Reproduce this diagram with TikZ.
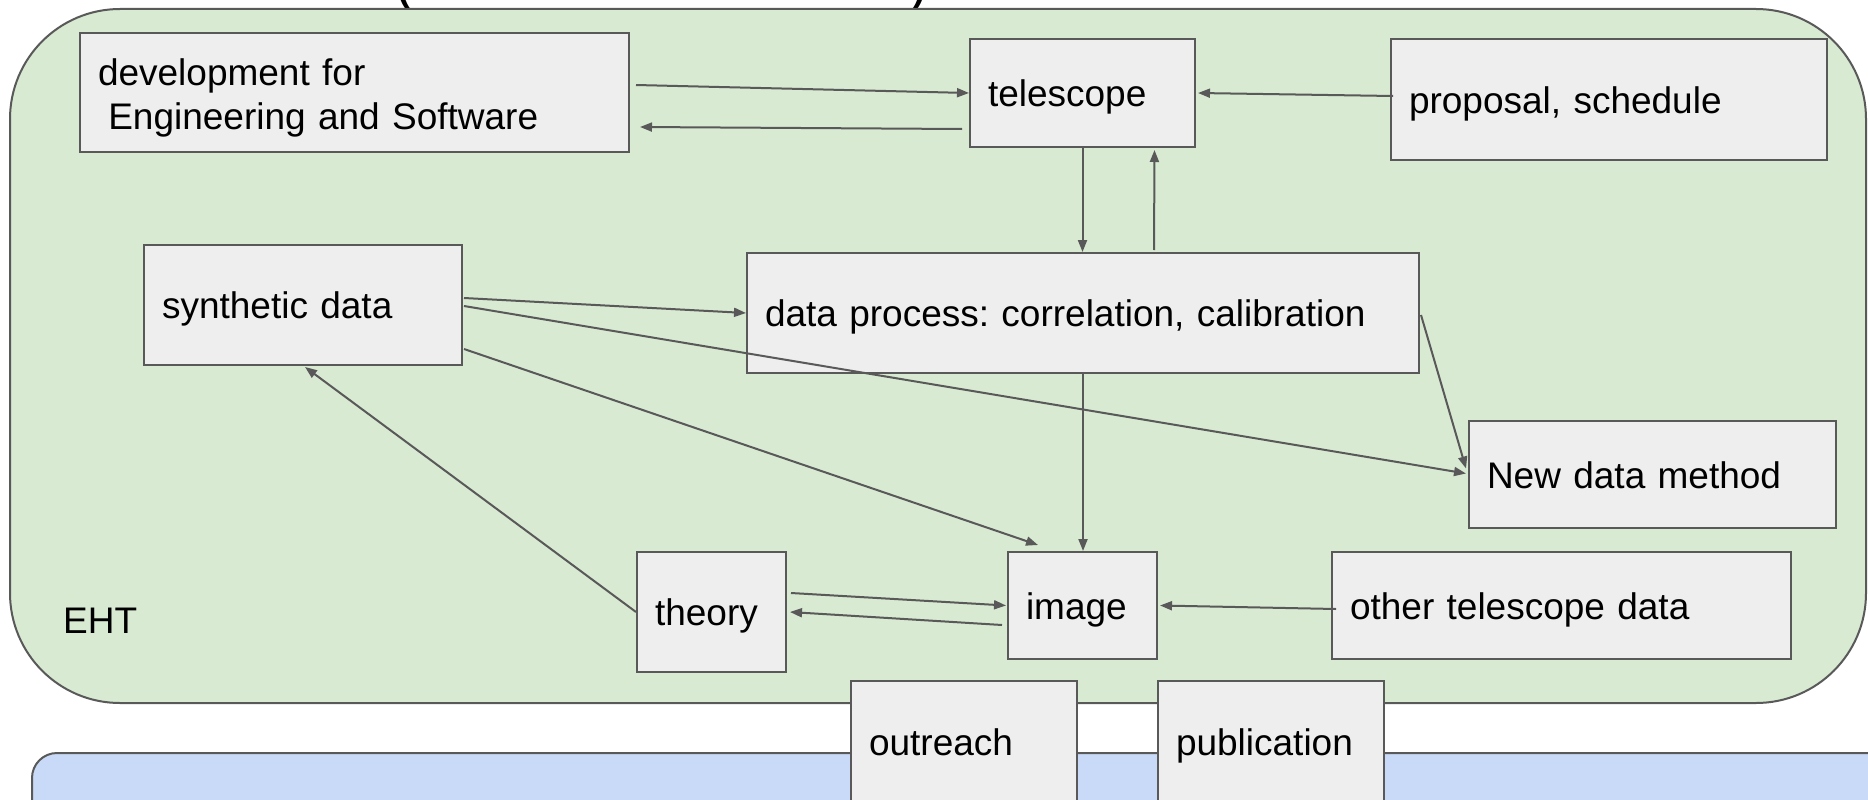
\documentclass[tikz,border=0pt]{standalone}
\usepackage{fontspec}
\setmainfont{Liberation Sans}
\usetikzlibrary{arrows.meta}
\definecolor{ehtgreen}{HTML}{D9EAD3}
\definecolor{bluebg}{HTML}{C9DAF8}
\definecolor{boxfill}{HTML}{EEEEEE}
\definecolor{edgegray}{HTML}{595959}
\frenchspacing
\begin{document}
\begin{tikzpicture}[x=1pt,y=-1pt,
  box/.style={draw=edgegray, fill=boxfill, line width=2pt, rectangle,
    inner xsep=18pt, inner ysep=0pt, align=left,
    text height=31pt, text depth=4pt,
    font=\fontsize{37}{44}\selectfont},
  conn/.style={draw=edgegray, line width=2pt, -{Triangle[length=12pt,width=9pt]}},
  region/.style={draw=edgegray, line width=2pt},
  lbl/.style={inner sep=0pt, font=\fontsize{37}{44}\selectfont},
  paren/.style={inner sep=0pt, anchor=base, font=\fontsize{56}{60}\selectfont}
]
\useasboundingbox (0,0) rectangle (1868,800);
\begin{scope}
\clip (0,0) rectangle (1868,800);
% title fragments
\node[paren] (lpar) at (405,2) {(};
\node[paren] (rpar) at (919,2) {)};
% regions
\path[region, fill=ehtgreen, rounded corners=110pt] (10,9) rectangle (1866,703);
\path[region, fill=bluebg, rounded corners=25pt] (32,753) rectangle (1920,900);
\node[lbl, anchor=west] (eht) at (63,621) {EHT};
% boxes
\node[box, minimum width=549pt, minimum height=119pt, text width=513pt, text height=34pt, text depth=48pt] (dev) at (354.5,92.5)
  {development for\\\hspace*{0.278em}Engineering and Software};
\node[box, minimum width=225pt, minimum height=108pt, text width=189pt] (tel) at (1082.5,93) {telescope};
\node[box, minimum width=436pt, minimum height=121pt, text width=400pt] (prop) at (1609,99.5) {proposal, schedule};
\node[box, minimum width=318pt, minimum height=120pt, text width=282pt] (syn) at (303,305) {synthetic data};
\node[box, minimum width=672pt, minimum height=120pt, text width=636pt] (dp) at (1083,313) {data process: correlation, calibration};
\node[box, minimum width=367pt, minimum height=107pt, text width=331pt] (ndm) at (1652.5,474.5) {New data method};
\node[box, minimum width=149pt, minimum height=120pt, text width=113pt] (theo) at (711.5,612) {theory};
\node[box, minimum width=149pt, minimum height=107pt, text width=113pt] (img) at (1082.5,605.5) {image};
\node[box, minimum width=459pt, minimum height=107pt, text width=423pt] (oth) at (1561.5,605.5) {other telescope data};
\node[box, minimum width=226pt, minimum height=122pt, text width=190pt] (outr) at (964,742) {outreach};
\node[box, minimum width=226pt, minimum height=122pt, text width=190pt] (pub) at (1271,742) {publication};
% connectors
\draw[conn] ([shift={(6,-7.5)}]dev.east) -- (tel.west);
\draw[conn] ([shift={(-7,36)}]tel.west) -- ([shift={(10,34.5)}]dev.east);
\draw[conn] ([shift={(3,-3.5)}]prop.west) -- ([shift={(2,0)}]tel.east);
\draw[conn] (tel.south) -- (tel.south |- dp.north);
\draw[conn] ([shift={(71,-2)}]dp.north) -- ([shift={(72,2)}]tel.south);
\draw[conn] ([shift={(1,-7)}]syn.east) -- (dp.west);
\draw[conn] ([shift={(1,1)}]syn.east) -- ([shift={(-2,-1)}]ndm.west);
\draw[conn] ([shift={(1,2)}]dp.east) -- ([shift={(-2,-6)}]ndm.west);
\draw[conn] ([shift={(1,44)}]syn.east) -- ([shift={(-44.5,-6)}]img.north);
\draw[conn] (dp.south) -- (dp.south |- img.north);
\draw[conn] (theo.west) -- ([shift={(2,1)}]syn.south);
\draw[conn] ([shift={(4,-19)}]theo.east) -- ([shift={(-1,0)}]img.west);
\draw[conn] ([shift={(-5,19.5)}]img.west) -- ([shift={(3,0)}]theo.east);
\draw[conn] ([shift={(5,3.5)}]oth.west) -- ([shift={(2,0)}]img.east);
\end{scope}
\end{tikzpicture}
\end{document}
